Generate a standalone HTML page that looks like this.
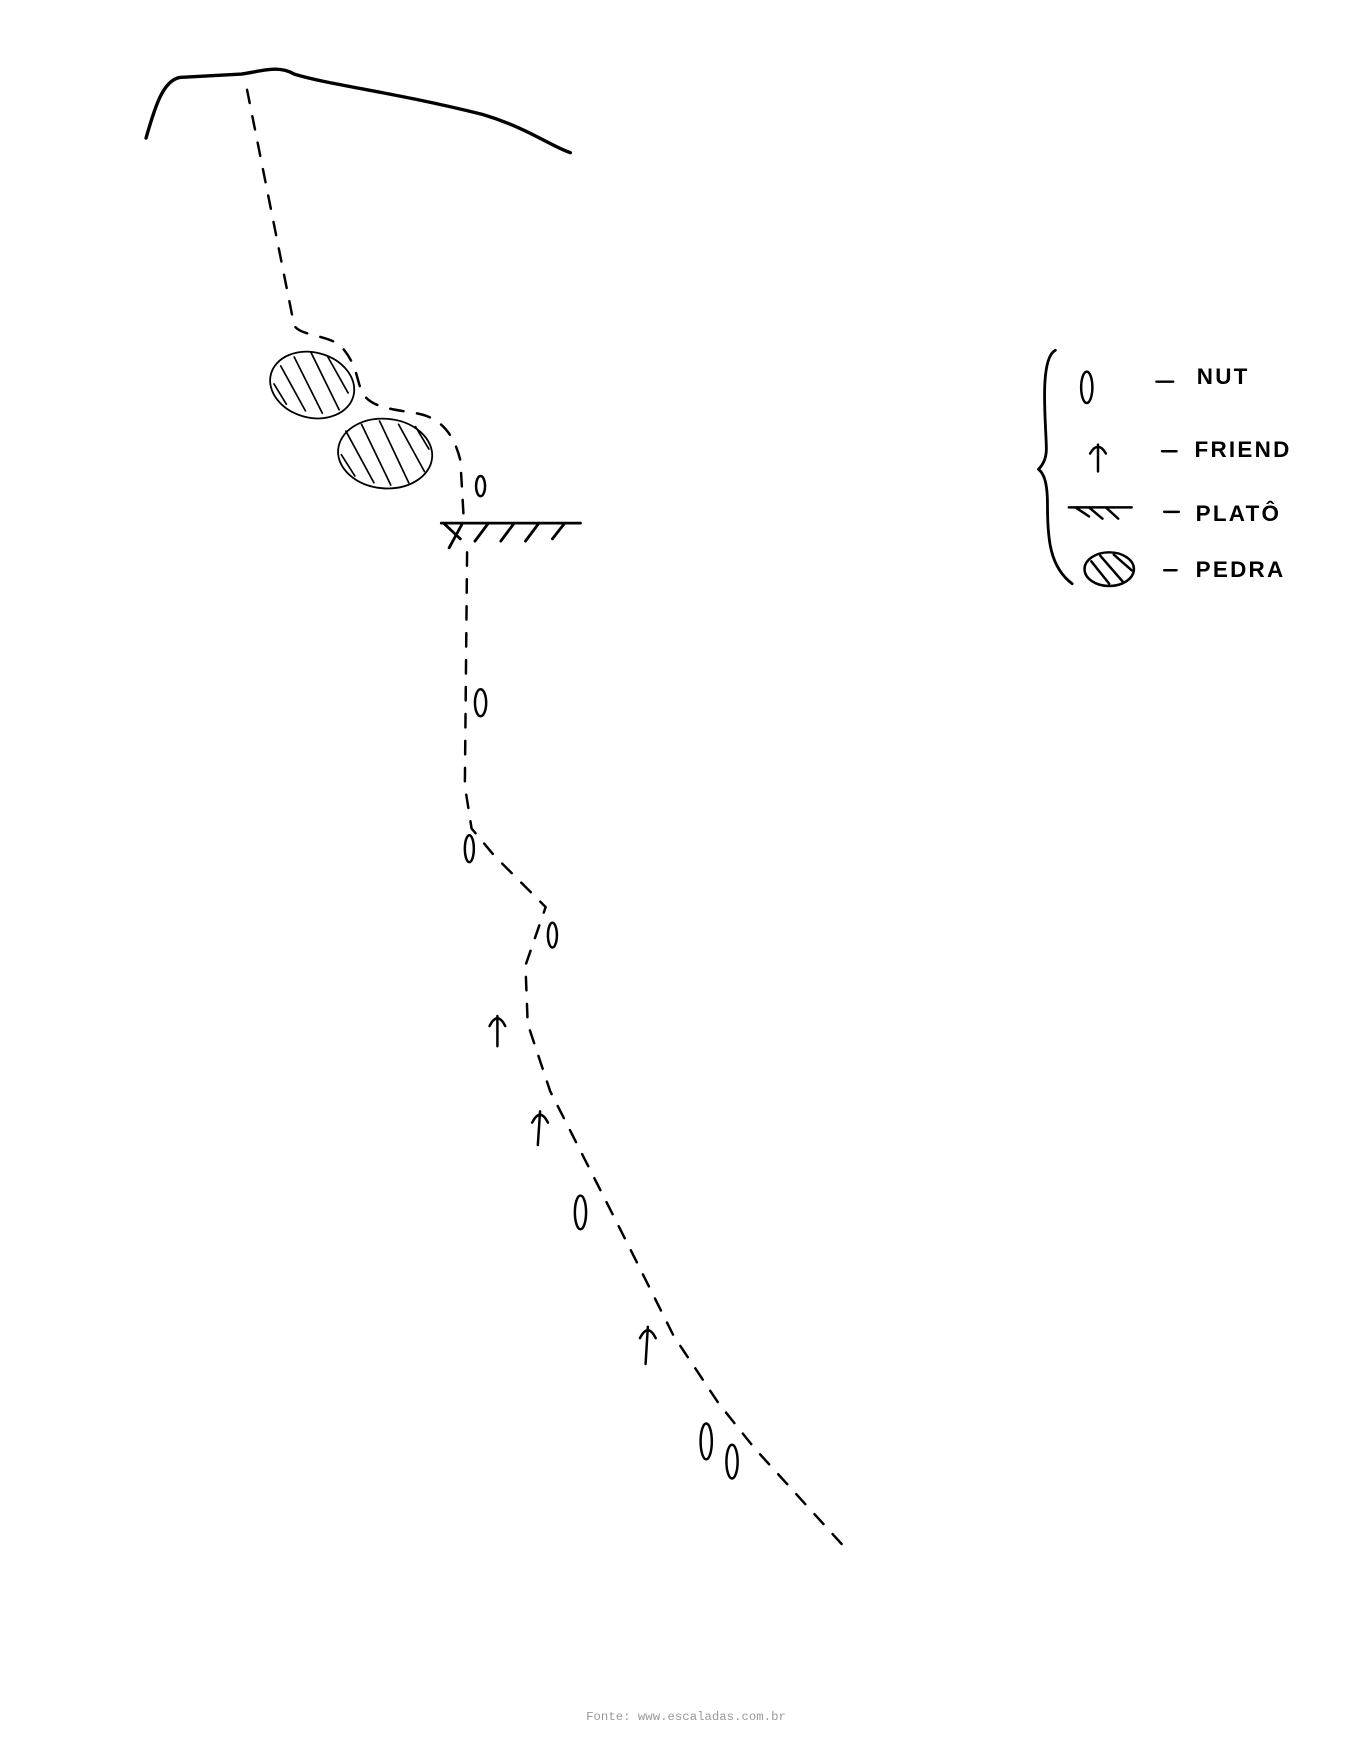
<!DOCTYPE html>
<html><head><meta charset="utf-8"><style>
html,body{margin:0;padding:0;background:#fff;}
svg{display:block;}
</style></head><body>
<svg width="1372" height="1758" viewBox="0 0 1222 1566" xmlns="http://www.w3.org/2000/svg">
<g fill="none" stroke="#000" stroke-linecap="round" stroke-linejoin="round">
<path d="M130,123 C138,95 145,72 160,69 L215,66 C235,63 248,58 262,66 C295,76 350,82 430,102 C470,114 490,130 508,136" stroke-width="3"/>
<path d="M220,80 L262,290 C268,300 295,298 305,310 C318,325 318,340 322,348 C328,362 345,364 370,368 C395,372 405,390 410,410 L413,462" stroke-width="2.2" stroke-dasharray="12,12"/>
<path d="M416,492 L414,700 L420,738 L440,762 L486,808 L468,860 L470,912 L490,972 L522,1035 L560,1110 L600,1190 L640,1250 L672,1290 L752,1378" stroke-width="2.2" stroke-dasharray="12,12"/>
<ellipse cx="278" cy="343" rx="38" ry="29" stroke-width="1.6" transform="rotate(15 278 343)"/>
<ellipse cx="343" cy="404" rx="42" ry="31" stroke-width="1.6" transform="rotate(5 343 404)"/>
<path d="M250,326 L272,366 M262,318 L287,368 M277,314 L302,365 M292,318 L310,350 M244,342 L255,360 M308,384 L333,430 M322,378 L348,432 M338,375 L364,430 M355,378 L378,420 M370,380 L382,400 M304,405 L316,424" stroke-width="1.5"/>
<path d="M393,466 L517,466 M395,466 L410,480 M412,466 L400,488 M435,466 L423,482 M458,466 L446,482 M480,466 L468,482 M503,466 L492,480" stroke-width="2.5"/>
<g stroke-width="2.2">
<ellipse cx="428" cy="433" rx="4" ry="9"/><ellipse cx="428" cy="626" rx="5" ry="12"/><ellipse cx="418" cy="756" rx="4" ry="12"/><ellipse cx="492" cy="833" rx="4" ry="11"/><ellipse cx="517" cy="1080" rx="5" ry="15"/><ellipse cx="629" cy="1284" rx="5" ry="16"/><ellipse cx="652" cy="1302" rx="5" ry="15"/>
<path d="M443,932 L443,905 M436,914 Q443,900 450,914"/>
<path d="M479,1020 L481,990 M474,1000 Q481,986 488,1000"/>
<path d="M575,1215 L577,1182 M570,1192 Q577,1178 584,1192"/>
<path d="M940,312 C925,320 932,380 932,400 C932,410 928,415 925,418 C930,422 933,430 933,450 C933,480 935,505 955,520" stroke-width="2.5"/>
<ellipse cx="968" cy="345" rx="5" ry="14"/>
<path d="M978,420 L978,396 M971,404 Q978,392 985,404"/>
<path d="M952,452 L1008,452 M958,452 L970,460 M970,452 L982,462 M985,452 L996,462"/>
<ellipse cx="988" cy="507" rx="22" ry="15"/>
<path d="M972,500 L988,520 M980,495 L1000,518 M992,494 L1008,508"/>
<path d="M1030,340 L1045,340 M1035,402 L1048,402 M1037,456 L1050,456 M1037,508 L1048,508"/>
</g>
</g>
<g font-family="Liberation Sans, sans-serif" font-weight="bold" font-size="20" fill="#000" letter-spacing="2">
<text x="1066" y="342">NUT</text>
<text x="1064" y="407">FRIEND</text>
<text x="1065" y="464">PLATÔ</text>
<text x="1065" y="514">PEDRA</text>
</g>
<text x="611" y="1532" text-anchor="middle" font-family="Liberation Mono, monospace" font-size="11" fill="#999">Fonte: www.escaladas.com.br</text>
</svg>
</body></html>
